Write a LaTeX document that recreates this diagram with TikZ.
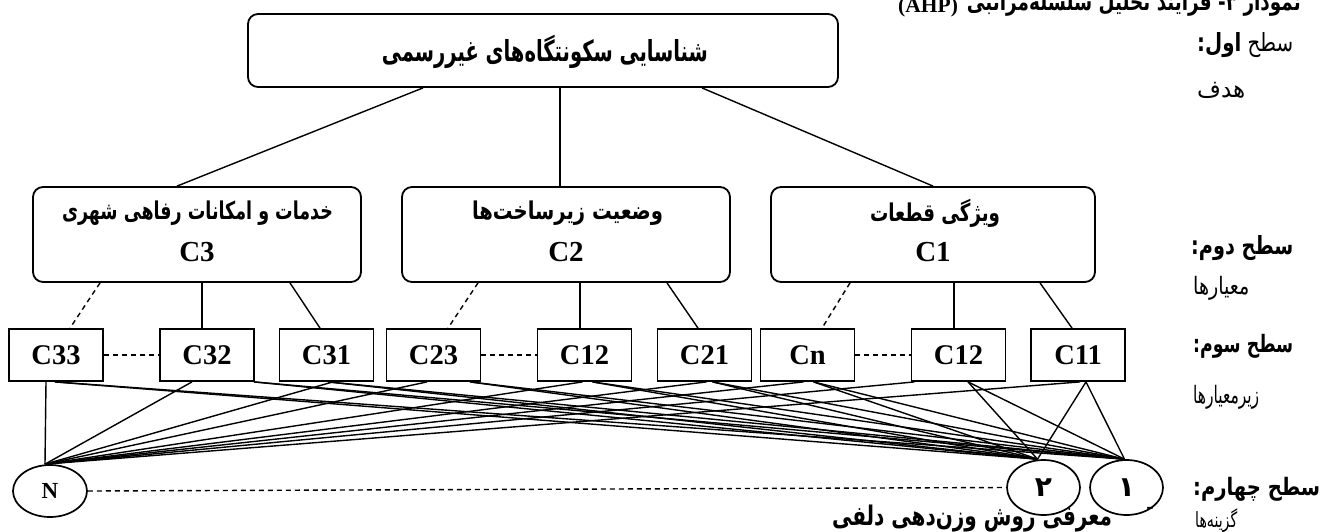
\documentclass[tikz,border=0pt]{standalone}
\usepackage{fontspec}
\usepackage{graphicx}
\setmainfont{Liberation Serif}
\newfontfamily\farsi[Script=Arabic]{DejaVu Sans}
\TeXXeTstate=1
\usetikzlibrary{shapes.geometric,calc}
% width, font size, text: set at the given size, then fit to the given width
\newcommand{\fat}[3]{\resizebox{#1}{\height}{\fontsize{#2}{#2}\selectfont\farsi #3}}
\tikzset{
  mainbox/.style={draw, rounded corners=10pt, line width=1.8pt, inner sep=0pt},
  subbox/.style={draw, line width=1.8pt, minimum width=94pt, minimum height=52pt, inner sep=0pt,
                 font=\fontsize{28.5}{30}\selectfont\bfseries},
  ctxt/.style={inner sep=0pt, font=\fontsize{29}{30}\selectfont\bfseries},
  txt/.style={inner sep=0pt},
  alt/.style={draw, ellipse, line width=1.7pt, inner sep=0pt},
  link/.style={line width=1.4pt},
  dlink/.style={line width=1.4pt, dash pattern=on 5pt off 4pt},
}
\begin{document}
\begin{tikzpicture}[x=1pt,y=-1pt]
\useasboundingbox (0,0) rectangle (1322,532);

% title
\node[txt, anchor=base east] (title) at (1301,10.5)
  {\fat{334pt}{24}{\bfseries\beginR نمودار ۳- فرایند تحلیل سلسله^^^^200cمراتبی\endR}};
\node[txt, anchor=base west, font=\fontsize{21.5}{23}\selectfont\bfseries] (ahp) at (898,12.5) {(AHP)};

% level 1
\node[mainbox, minimum width=590pt, minimum height=73pt] (goal) at (543,50.5) {};
\node[txt] (goaltxt) at (545,52) {\fat{326pt}{29}{\bfseries\beginR شناسایی سکونتگاه^^^^200cهای غیررسمی\endR}};

% level 2
\node[mainbox, minimum width=328pt, minimum height=95pt] (c3) at (197,234.5) {};
\node[txt] (c3fa) at (197.5,213) {\fat{271pt}{24.5}{\bfseries\beginR خدمات و امکانات رفاهی شهری\endR}};
\node[ctxt] (c3lab) at (197,252) {C3};

\node[mainbox, minimum width=328pt, minimum height=95pt] (c2) at (566,234.5) {};
\node[txt] (c2fa) at (567.5,213) {\fat{191pt}{24.5}{\bfseries\beginR وضعیت زیرساخت^^^^200cها\endR}};
\node[ctxt] (c2lab) at (566,252) {C2};

\node[mainbox, minimum width=324pt, minimum height=95pt] (c1) at (933,234.5) {};
\node[txt] (c1fa) at (935,213) {\fat{130pt}{24.5}{\bfseries\beginR ویژگی قطعات\endR}};
\node[ctxt] (c1lab) at (933,252) {C1};

% level 3
\node[subbox] (c33) at (56,355) {C33};
\node[subbox] (c32) at (207,355) {C32};
\node[subbox] (c31) at (326.5,355) {C31};
\node[subbox] (c23) at (433.5,355) {C23};
\node[subbox] (c12a) at (584.5,355) {C12};
\node[subbox] (c21) at (704.5,355) {C21};
\node[subbox] (cn) at (807.5,355) {Cn};
\node[subbox] (c12b) at (958.5,355) {C12};
\node[subbox] (c11) at (1078,355) {C11};

% level 4
\node[alt, minimum width=74pt, minimum height=52pt, font=\fontsize{23}{25}\selectfont\bfseries] (nN) at (50,491) {N};
\node[alt, minimum width=73pt, minimum height=55pt, font=\fontsize{28}{30}\selectfont] (two) at (1043.5,487.5) {\farsi\bfseries ۲};
\node[alt, minimum width=73pt, minimum height=55pt, font=\fontsize{28}{30}\selectfont] (one) at (1126.5,487.5) {\farsi\bfseries ۱};

% right labels
\node[txt, anchor=west] (l1a) at (1197,45) {\fat{96pt}{25}{\beginR سطح {\bfseries اول:}\endR}};
\node[txt, anchor=west] (l1b) at (1197,90) {\fat{48pt}{24}{\beginR هدف\endR}};
\node[txt, anchor=west] (l2a) at (1191,248) {\fat{102pt}{25}{\bfseries\beginR سطح دوم:\endR}};
\node[txt, anchor=west] (l2b) at (1193,288) {\fat{56pt}{24}{\beginR معیارها\endR}};
\node[txt, anchor=west] (l3a) at (1193,346) {\fat{100pt}{24}{\bfseries\beginR سطح سوم:\endR}};
\node[txt, anchor=west] (l3b) at (1193,397) {\fat{66pt}{24}{\beginR زیرمعیارها\endR}};
\node[txt, anchor=west] (l4a) at (1193,489) {\fat{127pt}{24}{\bfseries\beginR سطح چهارم:\endR}};
\node[txt, anchor=west] (l4b) at (1195,521) {\fat{42pt}{21}{\beginR گزینه^^^^200cها\endR}};

% bottom text
\node[txt] (delphi) at (972,519) {\fat{280pt}{27}{\bfseries\beginR معرفی روش وزن^^^^200cدهی دلفی\endR}};
\node[txt, font=\fontsize{22}{24}\selectfont\bfseries] (dash) at (1150,510) {-};

% level1 -> level2
\draw[link] ([xshift=-120pt]goal.south) -- ([xshift=-20pt]c3.north);
\draw[link] ([xshift=17pt]goal.south) -- ([xshift=17pt]goal.south |- c2.north);
\draw[link] ([xshift=159pt]goal.south) -- (c1.north);

% level2 -> level3
\draw[dlink] ([xshift=-97pt]c3.south) -- ([xshift=14pt]c33.north);
\draw[link] ([xshift=5pt]c3.south) -- ([xshift=5pt]c3.south |- c32.north);
\draw[link] ([xshift=93pt]c3.south) -- ([xshift=-6.5pt]c31.north);
\draw[dlink] ([xshift=-88pt]c2.south) -- ([xshift=14.5pt]c23.north);
\draw[link] ([xshift=14pt]c2.south) -- ([xshift=14pt]c2.south |- c12a.north);
\draw[link] ([xshift=101pt]c2.south) -- ([xshift=-6.5pt]c21.north);
\draw[dlink] ([xshift=-83pt]c1.south) -- ([xshift=14.5pt]cn.north);
\draw[link] ([xshift=21pt]c1.south) -- ([xshift=21pt]c1.south |- c12b.north);
\draw[link] ([xshift=107pt]c1.south) -- ([xshift=-6pt]c11.north);

% dashed siblings
\draw[dlink] (c33.east) -- (c32.west);
\draw[dlink] (c23.east) -- (c12a.west);
\draw[dlink] (cn.east) -- (c12b.west);
\draw[dlink] (nN.east) -- (two.west);

% level3 -> level4
\foreach \b/\n/\r in {c33/-10/-1, c32/-15/47, c31/6.5/1.5, c23/-6.5/36.5, c12a/-2/8, c21/2/8, cn/-4/6, c12b/-44/9.5, c11/2/8} {
  \draw[link] ([xshift=\n pt]\b.south) -- ([xshift=-5pt]nN.north);
  \draw[link] ([xshift=\r pt]\b.south) -- ([xshift=-6pt]two.north);
  \draw[link] ([xshift=\r pt]\b.south) -- ([xshift=-2pt]one.north);
}
\end{tikzpicture}
\end{document}
